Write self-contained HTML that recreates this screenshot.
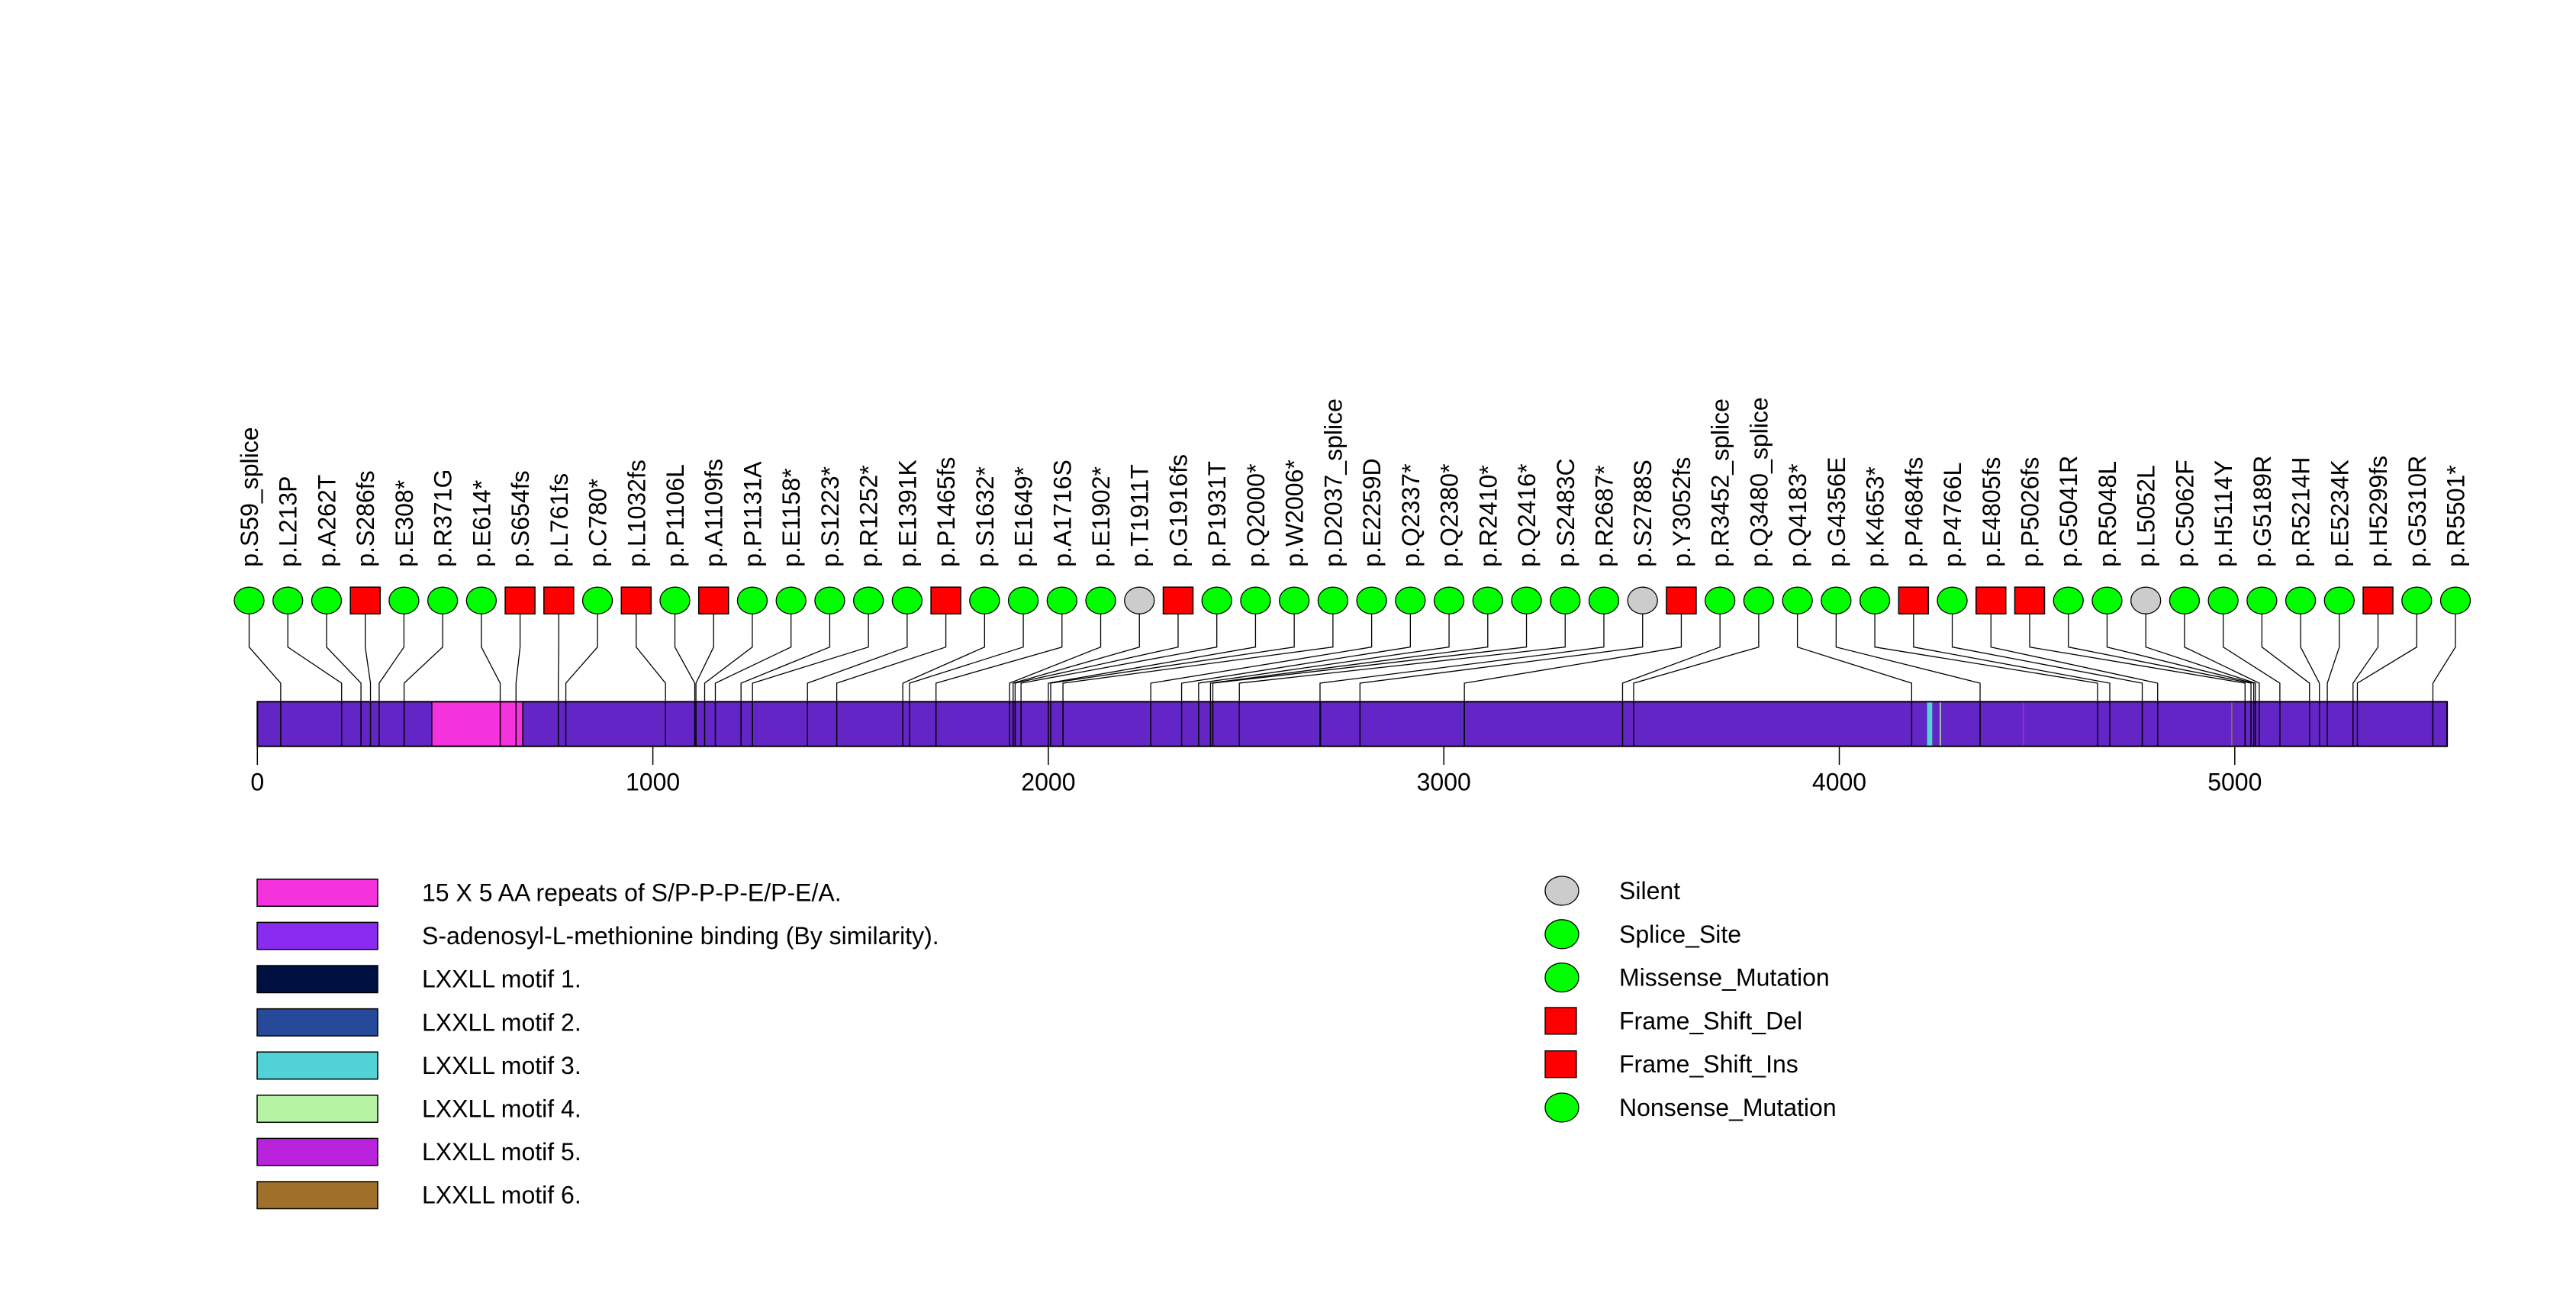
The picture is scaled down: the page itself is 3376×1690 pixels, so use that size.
<!DOCTYPE html>
<html><head><meta charset="utf-8"><style>
html,body{margin:0;padding:0;background:#fff;}
svg{display:block;font-family:"Liberation Sans",sans-serif;}
</style></head><body>
<svg id="chart" width="3376" height="1690" viewBox="0 0 3376 1690" xmlns="http://www.w3.org/2000/svg">
<g id="stems"></g>
<g id="protein"></g>
<g id="marks"></g>
<g id="labels"></g>
<g id="axis"></g>
<g id="legend1"></g>
<g id="legend2"></g>
</svg>
<script>
const proteinLength = 5537;
const mutLabels = ["p.S59_splice","p.L213P","p.A262T","p.S286fs","p.E308*","p.R371G","p.E614*","p.S654fs","p.L761fs","p.C780*","p.L1032fs","p.P1106L","p.A1109fs","p.P1131A","p.E1158*","p.S1223*","p.R1252*","p.E1391K","p.P1465fs","p.S1632*","p.E1649*","p.A1716S","p.E1902*","p.T1911T","p.G1916fs","p.P1931T","p.Q2000*","p.W2006*","p.D2037_splice","p.E2259D","p.Q2337*","p.Q2380*","p.R2410*","p.Q2416*","p.S2483C","p.R2687*","p.S2788S","p.Y3052fs","p.R3452_splice","p.Q3480_splice","p.Q4183*","p.G4356E","p.K4653*","p.P4684fs","p.P4766L","p.E4805fs","p.P5026fs","p.G5041R","p.R5048L","p.L5052L","p.C5062F","p.H5114Y","p.G5189R","p.R5214H","p.E5234K","p.H5299fs","p.G5310R","p.R5501*"];
const mutPositions = [59,213,262,286,308,371,614,654,761,780,1032,1106,1109,1131,1158,1223,1252,1391,1465,1632,1649,1716,1902,1911,1916,1931,2000,2006,2037,2259,2337,2380,2410,2416,2483,2687,2788,3052,3452,3480,4183,4356,4653,4684,4766,4805,5026,5041,5048,5052,5062,5114,5189,5214,5234,5299,5310,5501];
const mutTypes = ["splice","mis","mis","fs","non","mis","non","fs","fs","non","fs","mis","fs","mis","non","non","non","mis","fs","non","non","mis","non","silent","fs","mis","non","non","splice","mis","non","non","non","non","mis","non","silent","fs","splice","splice","non","mis","non","fs","mis","fs","fs","mis","mis","silent","mis","mis","mis","mis","mis","fs","mis","non"];
const domainStarts = [441, 2687, 3039, 4222, 4254, 4464, 4991];
const domainEnds   = [671, 2689, 3041, 4235, 4256, 4466, 4993];
const domainNames  = ["repeats","lxxll-1","lxxll-2","lxxll-3","lxxll-4","lxxll-5","lxxll-6"];
const domainColors = ["#f433dd","#001040","#27499a","#50d2d6","#b6f4a4","#b822db","#a0702a"];
const tickValues = [0,1000,2000,3000,4000,5000];
const legendDomainLabels = ["15 X 5 AA repeats of S/P-P-P-E/P-E/A.","S-adenosyl-L-methionine binding (By similarity).","LXXLL motif 1.","LXXLL motif 2.","LXXLL motif 3.","LXXLL motif 4.","LXXLL motif 5.","LXXLL motif 6."];
const legendDomainColors = ["#f433dd","#8a2bf0","#001040","#27499a","#50d2d6","#b6f4a4","#b822db","#a0702a"];
const legendTypeLabels = ["Silent","Splice_Site","Missense_Mutation","Frame_Shift_Del","Frame_Shift_Ins","Nonsense_Mutation"];
const legendTypeShapes = ["silent","splice","mis","fs","fs","non"];

const NS="http://www.w3.org/2000/svg";
const X0=337.3, PX=0.5183;
function xScale(aa){return X0+aa*PX;}
const BAR_T=919.3, BAR_B=977.7, CY=786.7, RX=19.5, RY=17.5;
const firstX=326.5, lastX=3218;
function slotX(i,n){return firstX+(lastX-firstX)*i/(n-1);}
function mk(tag,attrs,parent){const e=document.createElementNS(NS,tag);for(const k in attrs)e.setAttribute(k,attrs[k]);parent.appendChild(e);return e;}
function color(t){return t==="fs"?"#ff0000":(t==="silent"?"#cccccc":"#00ff00");}

const stems=document.getElementById('stems'), prot=document.getElementById('protein'), marks=document.getElementById('marks'), labels=document.getElementById('labels'), axis=document.getElementById('axis');

let bar=mk('rect',{x:xScale(0),y:BAR_T,width:xScale(proteinLength)-xScale(0),height:BAR_B-BAR_T,fill:'#6325c5',stroke:'none'},prot);


domainStarts.forEach((s,i)=>{
  const r=mk('rect',{x:xScale(s),y:BAR_T,width:Math.max(1.5,xScale(domainEnds[i])-xScale(s)),height:BAR_B-BAR_T,fill:domainColors[i],stroke:i===0?'#000':'none','stroke-width':1.5},prot);
  
  
});
mutPositions.forEach((p,i)=>{
  const l=mk('line',{x1:xScale(p),x2:xScale(p),y1:BAR_T,y2:BAR_B,stroke:'#000','stroke-width':1.5},prot);
  
  
});
let border=mk('rect',{x:xScale(0),y:BAR_T,width:xScale(proteinLength)-xScale(0),height:BAR_B-BAR_T,fill:'none',stroke:'#000','stroke-width':2},prot);



const n=mutPositions.length;
mutPositions.forEach((p,i)=>{
  const cx=slotX(i,n), px=xScale(p);
  const st=mk('polyline',{points:`${cx},${CY+RY} ${cx},847.7 ${px},895 ${px},${BAR_T}`,fill:'none',stroke:'#000','stroke-width':1.3},stems);
  
  
  const t=mutTypes[i];
  let m;
  if(t==="fs"){m=mk('rect',{x:cx-19.5,y:CY-RY,width:39,height:35,fill:color(t),stroke:'#000','stroke-width':1.5},marks);}
  else {m=mk('ellipse',{cx:cx,cy:CY,rx:RX,ry:RY,fill:color(t),stroke:'#000','stroke-width':1.3},marks);}
  
  
  const tx=mk('text',{x:0,y:0,transform:`translate(${cx+11.5},742.7) rotate(-90)`,'font-size':32,fill:'#000'},labels);
  tx.textContent=mutLabels[i];
  
  
});

tickValues.forEach(v=>{
  const tl=mk('line',{x1:xScale(v),x2:xScale(v),y1:BAR_B,y2:1002,stroke:'#000','stroke-width':1.5},axis);
  
  
  const tt=mk('text',{x:xScale(v),y:1035.5,'text-anchor':'middle','font-size':32,fill:'#000'},axis);
  tt.textContent=String(v);
  
  
});

const lg1=document.getElementById('legend1');
legendDomainLabels.forEach((s,i)=>{
  const cy=1169.5+56.6*i;
  const r=mk('rect',{x:337,y:cy-17.7,width:158,height:35.5,fill:legendDomainColors[i],stroke:'#000','stroke-width':1.5},lg1);
  
  
  const t=mk('text',{x:553,y:cy+11,'font-size':32,fill:'#000'},lg1);
  t.textContent=s;
  
  
});
const lg2=document.getElementById('legend2');
legendTypeLabels.forEach((s,i)=>{
  const cy=1167+56.8*i, sh=legendTypeShapes[i];
  let m;
  if(sh==="fs") m=mk('rect',{x:2025,y:cy-17.5,width:41,height:35,fill:'#ff0000',stroke:'#000','stroke-width':1.3},lg2);
  else m=mk('ellipse',{cx:2047,cy:cy,rx:22,ry:19,fill:color(sh),stroke:'#000','stroke-width':1.3},lg2);
  
  
  const t=mk('text',{x:2122,y:cy+11,'font-size':32,fill:'#000'},lg2);
  t.textContent=s;
  
  
});
</script>
</body></html>
